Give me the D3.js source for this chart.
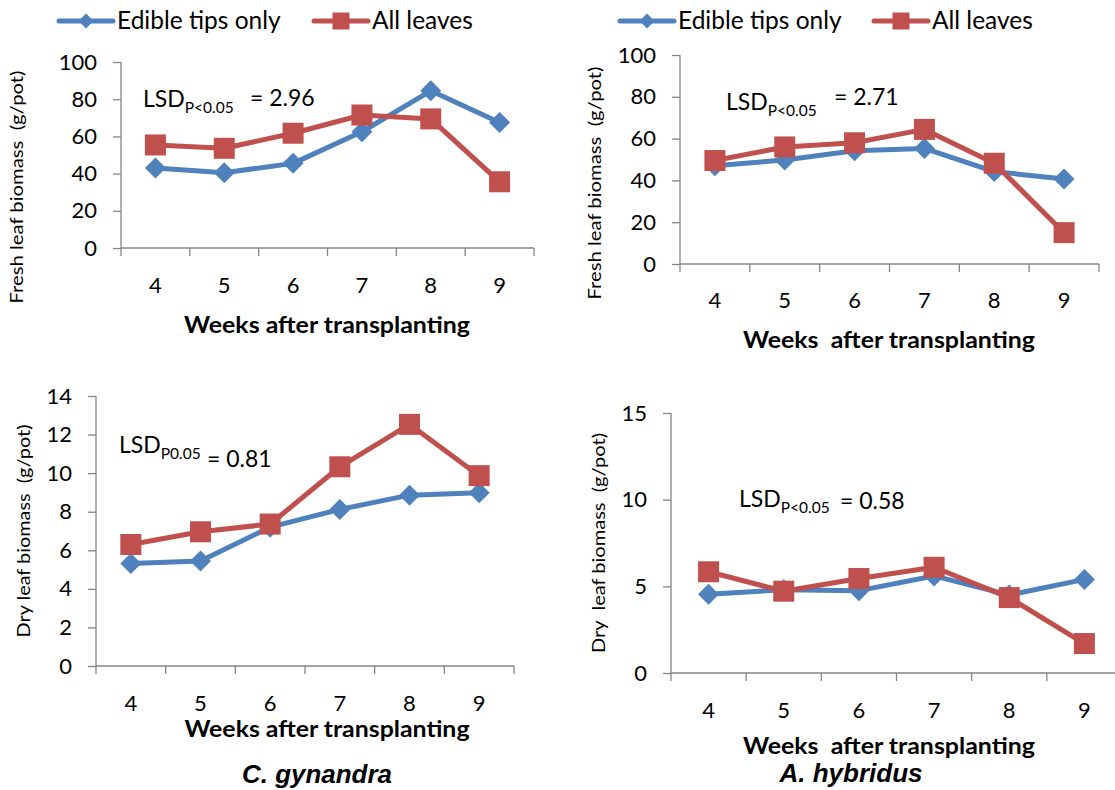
<!DOCTYPE html>
<html>
<head>
<meta charset="utf-8">
<script src="https://cdn.jsdelivr.net/npm/d3@7"></script>
<style>
  body { margin: 0; background: #fff; }
  text { font-family: Lato, "Open Sans", sans-serif; fill: #000; }
</style>
</head>
<body>
<svg id="chart" width="1115" height="790"></svg>
<script>
// Weeks after transplanting (x categories)
const weeks = [4, 5, 6, 7, 8, 9]
const seriesNames = ["Edible tips only", "All leaves"]

// Fresh leaf biomass (g/pot)
const cgFreshTips = [43, 40.5, 45.5, 62.5, 84.5, 67.5]
const cgFreshAll = [55.4, 53.6, 61.7, 71.5, 69.4, 35.6]
const ahFreshTips = [47, 49.8, 54.2, 55.3, 44.2, 40.7]
const ahFreshAll = [49.5, 56, 58, 64.4, 48.2, 15]

// Dry leaf biomass (g/pot)
const cgDryTips = [5.32, 5.44, 7.2, 8.12, 8.86, 8.98]
const cgDryAll = [6.3, 6.96, 7.36, 10.33, 12.53, 9.87]
const ahDryTips = [4.55, 4.8, 4.75, 5.6, 4.5, 5.4]
const ahDryAll = [5.84, 4.72, 5.45, 6.1, 4.35, 1.7]

// LSD annotations
const lsdSubs = ["P<0.05", "P<0.05", "P0.05", "P<0.05"]
const lsdValues = ["2.96", "2.71", "0.81", "0.58"]

const colours = ["#4F81BD", "#C0504D"]
const axisColour = "#868686"

// Panel layout
const panels = [
  { tips: cgFreshTips, all: cgFreshAll, yMax: 100, yStep: 20,
    left: 121, right: 534, top: 62, bottom: 248,
    yLabel: "Fresh leaf biomass  (g/pot)", yLabelX: 23, yLabelY: 187, yLabelLen: 233,
    xTitle: "Weeks after transplanting", xTitleX: 327, xTitleY: 333, xTitleLen: 286, tickY: 293,
    lsd: { x: 143, y: 107, eqX: 250, eqY: 106 }, legend: { y: 21, x1: 59, x2: 314 } },
  { tips: ahFreshTips, all: ahFreshAll, yMax: 100, yStep: 20,
    left: 680, right: 1099, top: 55, bottom: 264,
    yLabel: "Fresh leaf biomass  (g/pot)", yLabelX: 601, yLabelY: 183, yLabelLen: 233,
    xTitle: "Weeks  after transplanting", xTitleX: 889, xTitleY: 348, xTitleLen: 292, tickY: 308,
    lsd: { x: 726, y: 110, eqX: 834, eqY: 105 }, legend: { y: 21, x1: 620, x2: 874 } },
  { tips: cgDryTips, all: cgDryAll, yMax: 14, yStep: 2,
    left: 96, right: 514, top: 396, bottom: 666,
    yLabel: "Dry leaf biomass  (g/pot)", yLabelX: 30, yLabelY: 531, yLabelLen: 213,
    xTitle: "Weeks after transplanting", xTitleX: 327, xTitleY: 737, xTitleLen: 285, tickY: 711,
    lsd: { x: 119, y: 453, eqX: 207, eqY: 467 },
    species: "C. gynandra", speciesX: 317, speciesY: 783, speciesLen: 150 },
  { tips: ahDryTips, all: ahDryAll, yMax: 15, yStep: 5,
    left: 671, right: 1122, top: 413, bottom: 673,
    yLabel: "Dry  leaf biomass  (g/pot)", yLabelX: 605, yLabelY: 543, yLabelLen: 220,
    xTitle: "Weeks  after transplanting", xTitleX: 889, xTitleY: 754, xTitleLen: 292, tickY: 718,
    lsd: { x: 739, y: 507, eqX: 840, eqY: 509 },
    species: "A. hybridus", speciesX: 851, speciesY: 782, speciesLen: 143 }
]

const svg = d3.select("#chart")

function drawMarker(g, type, x, y, size, colour) {
  if (type === 0) {
    // diamond: size is the diagonal
    g.append("path")
      .attr("d", d3.symbol().type(d3.symbolSquare).size(size * size / 2)())
      .attr("transform", `translate(${x},${y}) rotate(45)`)
      .attr("fill", colour)
  } else {
    g.append("rect")
      .attr("x", x - size / 2)
      .attr("y", y - size / 2)
      .attr("width", size)
      .attr("height", size)
      .attr("fill", colour)
  }
}

panels.forEach((p, i) => {
  let g = svg.append("g").attr("class", `panel panel-${i}`)

  let x = d3.scaleBand().domain(weeks).range([p.left, p.right]).padding(0)
  let y = d3.scaleLinear().domain([0, p.yMax]).range([p.bottom, p.top])

  // Y axis
  let yAxis = d3.axisLeft(y)
    .tickValues(d3.range(0, p.yMax + 0.001, p.yStep))
    .tickSize(8)
    .tickPadding(16)
    .tickFormat(d3.format("d"))
  let ya = g.append("g")
    .attr("transform", `translate(${p.left},0)`)
    .call(yAxis)
  ya.select(".domain").attr("stroke", axisColour).attr("stroke-width", 1.3)
    .attr("d", `M0,${p.top}V${p.bottom}`)
  ya.selectAll(".tick line").attr("stroke", axisColour).attr("stroke-width", 1.3)
  ya.selectAll(".tick text")
    .attr("font-size", 22).attr("fill", "#000")
    .style("font-family", "Lato, sans-serif")

  // X axis line and boundary ticks
  g.append("line")
    .attr("x1", p.left).attr("x2", Math.min(p.right, 1115))
    .attr("y1", p.bottom).attr("y2", p.bottom)
    .attr("stroke", axisColour).attr("stroke-width", 1.3)
  let bounds = weeks.map(w => x(w)).concat([x(weeks[weeks.length - 1]) + x.bandwidth()])
  g.selectAll("line.xtick")
    .data(bounds.filter(b => b <= 1115))
    .join("line")
    .attr("class", "xtick")
    .attr("x1", d => d).attr("x2", d => d)
    .attr("y1", p.bottom).attr("y2", p.bottom + 8)
    .attr("stroke", axisColour).attr("stroke-width", 1.3)
  g.selectAll("text.xlab")
    .data(weeks)
    .join("text")
    .attr("class", "xlab")
    .attr("x", d => x(d) + x.bandwidth() / 2)
    .attr("y", p.tickY)
    .attr("text-anchor", "middle")
    .attr("font-size", 22)
    .text(d => d)

  // Axis titles
  g.append("text")
    .attr("x", p.xTitleX).attr("y", p.xTitleY)
    .attr("text-anchor", "middle")
    .attr("font-size", 23.5).attr("font-weight", "bold")
    .attr("textLength", p.xTitleLen).attr("lengthAdjust", "spacingAndGlyphs")
    .style("white-space", "pre")
    .text(p.xTitle)
  g.append("text")
    .attr("transform", `translate(${p.yLabelX},${p.yLabelY}) rotate(-90)`)
    .attr("text-anchor", "middle")
    .attr("font-size", 17.5)
    .attr("textLength", p.yLabelLen).attr("lengthAdjust", "spacingAndGlyphs")
    .style("white-space", "pre")
    .text(p.yLabel)

  // Series
  let line = d3.line()
    .x((d, j) => x(weeks[j]) + x.bandwidth() / 2)
    .y(d => y(d))
  ;[p.tips, p.all].forEach((vals, s) => {
    g.append("path")
      .datum(vals)
      .attr("d", line)
      .attr("fill", "none")
      .attr("stroke", colours[s])
      .attr("stroke-width", 5)
      .attr("stroke-linejoin", "round")
    vals.forEach((v, j) => {
      drawMarker(g, s, x(weeks[j]) + x.bandwidth() / 2, y(v), 21, colours[s])
    })
  })

  // LSD annotation
  let lsd = g.append("text")
    .attr("x", p.lsd.x).attr("y", p.lsd.y)
    .attr("font-size", 23)
    .text("LSD")
  let w = lsd.node().getComputedTextLength()
  g.append("text")
    .attr("x", p.lsd.x + w).attr("y", p.lsd.y + 6)
    .attr("font-size", 15.5)
    .text(lsdSubs[i])
  g.append("text")
    .attr("x", p.lsd.eqX).attr("y", p.lsd.eqY)
    .attr("font-size", 23)
    .text(`= ${lsdValues[i]}`)

  // Legend
  if (p.legend) {
    let lg = g.append("g").attr("class", "legend")
    ;[p.legend.x1, p.legend.x2].forEach((lx, s) => {
      lg.append("line")
        .attr("x1", lx).attr("x2", lx + 54)
        .attr("y1", p.legend.y).attr("y2", p.legend.y)
        .attr("stroke", colours[s]).attr("stroke-width", 5)
        .attr("stroke-linecap", "round")
      drawMarker(lg, s, lx + 27, p.legend.y, s === 0 ? 15 : 17, colours[s])
      lg.append("text")
        .attr("x", lx + 58).attr("y", p.legend.y + 8)
        .attr("font-size", 24.5)
        .text(seriesNames[s])
    })
  }

  // Species label
  if (p.species) {
    g.append("text")
      .attr("x", p.speciesX).attr("y", p.speciesY)
      .attr("text-anchor", "middle")
      .style("font-family", "'Liberation Sans', Arial, sans-serif")
      .attr("font-size", 25).attr("font-weight", "bold").attr("font-style", "italic")
      .attr("textLength", p.speciesLen).attr("lengthAdjust", "spacingAndGlyphs")
      .text(p.species)
  }
})
</script>
</body>
</html>
